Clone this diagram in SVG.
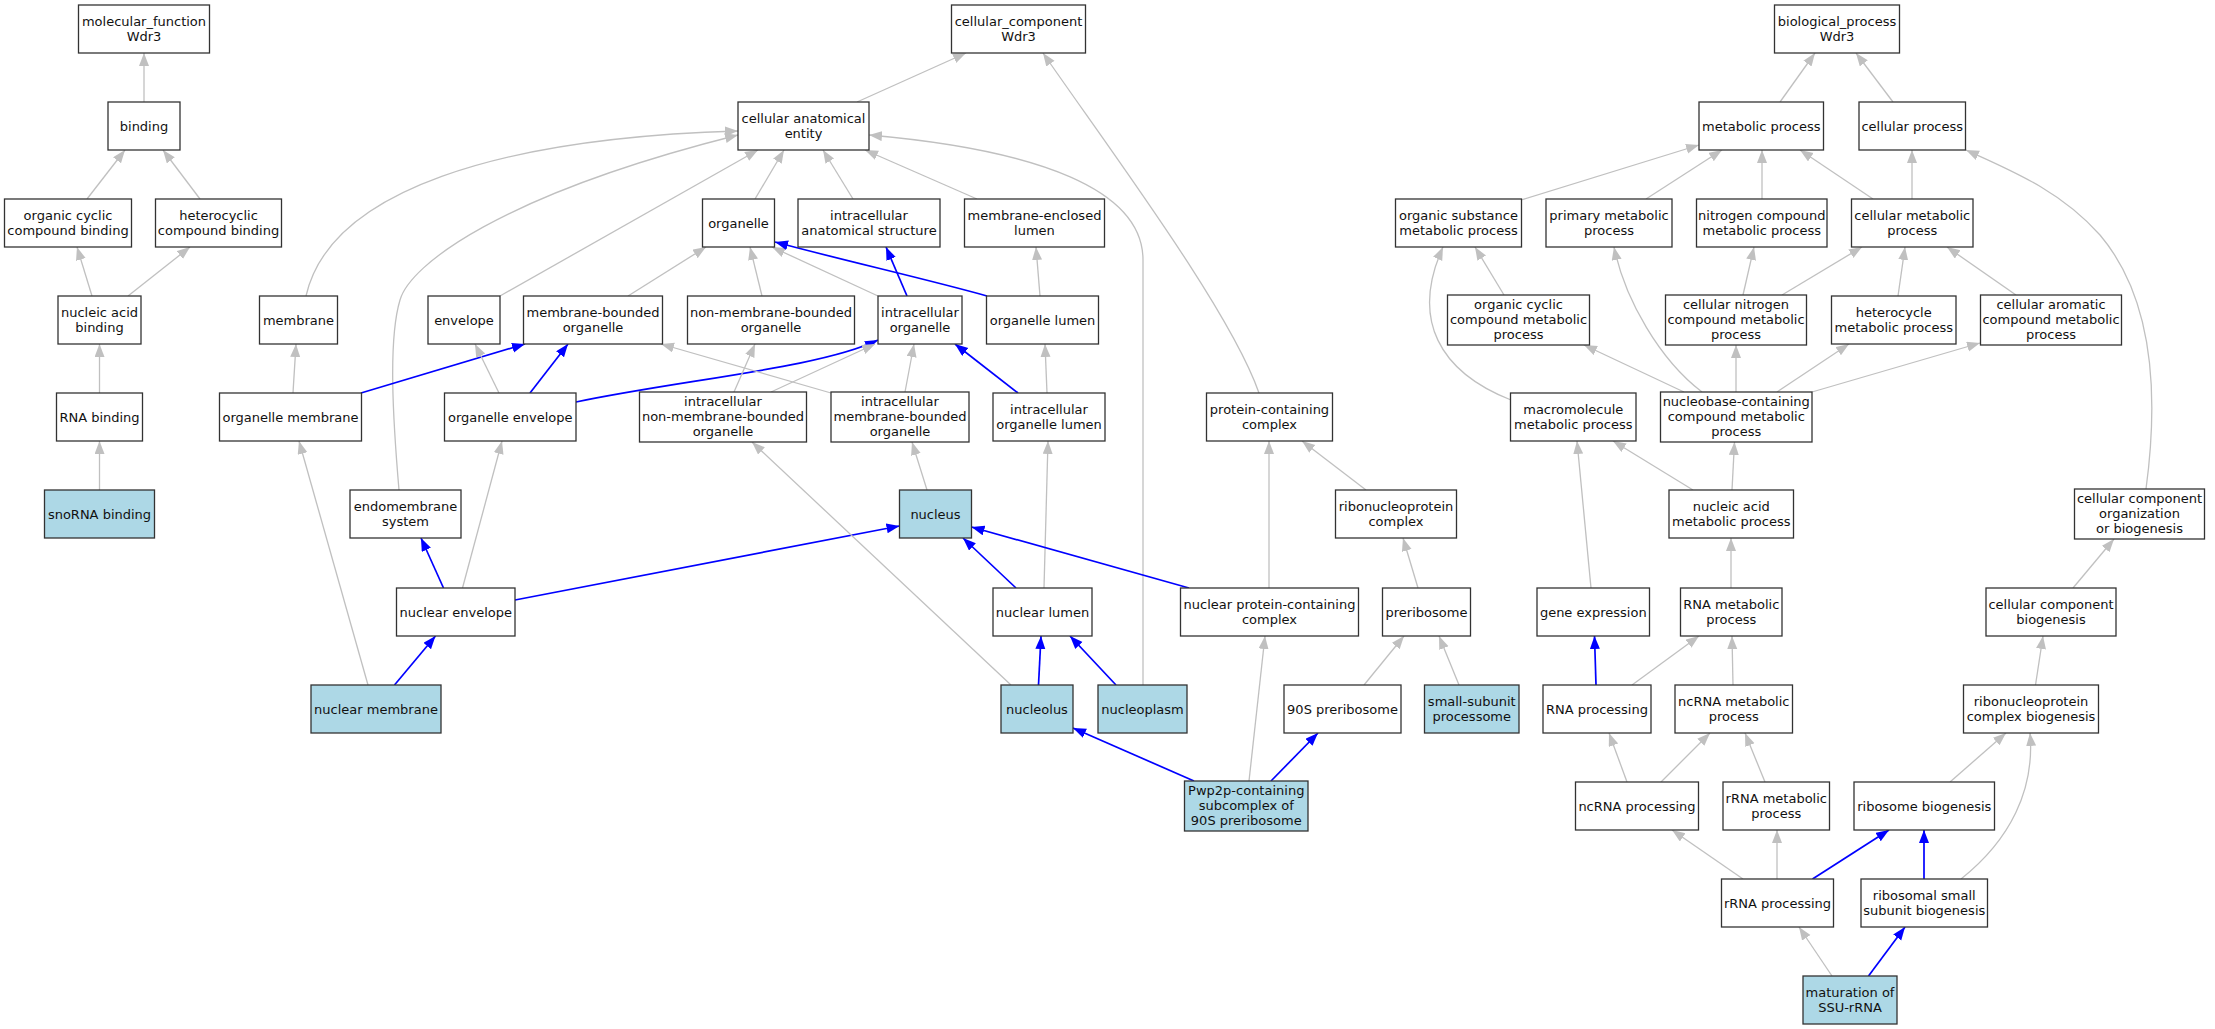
<svg xmlns="http://www.w3.org/2000/svg" width="2215" height="1029" viewBox="0 0 2215 1029">
<style>
.n rect{fill:#fff;stroke:#333;stroke-width:1.3}
.n.hl rect{fill:#add8e6}
text{font-family:"DejaVu Sans","Liberation Sans",sans-serif;font-size:13px;text-anchor:middle;fill:#111}
.e{fill:none;stroke:#c0c0c0;stroke-width:1.3;marker-end:url(#ag)}
.b{fill:none;stroke:#0000ff;stroke-width:1.7;marker-end:url(#ab)}
</style>
<defs>
<marker id="ag" markerUnits="userSpaceOnUse" markerWidth="14" markerHeight="11" refX="13" refY="5" orient="auto"><path d="M0,0 L13,5 L0,10 z" fill="#c0c0c0"/></marker>
<marker id="ab" markerUnits="userSpaceOnUse" markerWidth="14" markerHeight="11" refX="13" refY="5" orient="auto"><path d="M0,0 L13,5 L0,10 z" fill="#0000ff"/></marker>
</defs>
<rect width="2215" height="1029" fill="#fff"/>
<g id="edges">
<path class="e" d="M144,102 L144,53"/>
<path class="e" d="M87,199 L125,150"/>
<path class="e" d="M200,199 L163,150"/>
<path class="e" d="M92,296 L77,247"/>
<path class="e" d="M128,296 L190,247"/>
<path class="e" d="M99.5,393 L99.5,344"/>
<path class="e" d="M99.5,490 L99.5,441"/>
<path class="e" d="M857,102 L966,53"/>
<path class="e" d="M1259,393 C1230,310 1110,150 1043,53"/>
<path class="e" d="M306,296 C330,190 500,138 738,131"/>
<path class="e" d="M399,490 C393,420 388,340 400,300 C410,265 500,195 738,135"/>
<path class="e" d="M500,296 L758,150"/>
<path class="e" d="M755,199 L784,150"/>
<path class="e" d="M853,199 L823,150"/>
<path class="e" d="M977,199 L865,150"/>
<path class="e" d="M1143,685 L1143,260 C1143,190 1040,150 869,135"/>
<path class="e" d="M628,296 L706,247"/>
<path class="e" d="M762,296 L750,247"/>
<path class="e" d="M878,296 L772,247"/>
<path class="b" d="M987,296 C930,280 850,262 775,242"/>
<path class="b" d="M907,296 L886,247"/>
<path class="e" d="M1040,296 L1036,247"/>
<path class="e" d="M293,393 L296,344"/>
<path class="b" d="M361,393 L525,344"/>
<path class="e" d="M499,393 L475,344"/>
<path class="b" d="M530,393 L568,344"/>
<path class="b" d="M576,402 C680,380 820,368 878,340"/>
<path class="e" d="M734,392 L755,344"/>
<path class="e" d="M771,392 L875,344"/>
<path class="e" d="M831,393 L661,344"/>
<path class="e" d="M905,392 L914,344"/>
<path class="b" d="M1018,393 L955,344"/>
<path class="e" d="M1047,393 L1045,344"/>
<path class="e" d="M927,490 L912,442"/>
<path class="b" d="M443.5,588 L421,538"/>
<path class="e" d="M462.5,588 L502,441"/>
<path class="b" d="M515,600 L899.5,526"/>
<path class="b" d="M394.5,685 L435.5,636"/>
<path class="e" d="M368,685 L299,441"/>
<path class="b" d="M1016,588 L963,538"/>
<path class="e" d="M1044,588 L1048,441"/>
<path class="b" d="M1189,588 L971.5,527"/>
<path class="e" d="M1269,588 L1269,441"/>
<path class="e" d="M1366,490 L1302,441"/>
<path class="e" d="M1418,588 L1403,538"/>
<path class="b" d="M1038.5,685 L1041,636"/>
<path class="e" d="M1011,685 L752,442"/>
<path class="b" d="M1116,685 L1070,636"/>
<path class="e" d="M1364,685 L1404,636"/>
<path class="e" d="M1459,685 L1439,636"/>
<path class="b" d="M1194,781 L1073,728"/>
<path class="e" d="M1249,781 L1265,636"/>
<path class="b" d="M1271,781 L1318,733"/>
<path class="e" d="M1780,102 L1815,53"/>
<path class="e" d="M1893,102 L1856,53"/>
<path class="e" d="M1521,200 L1699,145"/>
<path class="e" d="M1646,199 L1722,150"/>
<path class="e" d="M1762,199 L1762,150"/>
<path class="e" d="M1873,199 L1800,150"/>
<path class="e" d="M1912,199 L1912,150"/>
<path class="e" d="M2146,489 C2158,400 2155,300 2100,235 C2060,190 2010,170 1966,150"/>
<path class="e" d="M1504,295 L1475,247"/>
<path class="e" d="M1511,400 C1440,372 1410,320 1443,247"/>
<path class="e" d="M1702,392 C1660,360 1625,300 1614,247"/>
<path class="e" d="M1743,295 L1754,247"/>
<path class="e" d="M1782,295 L1862,247"/>
<path class="e" d="M1898,296 L1905,247"/>
<path class="e" d="M2016,295 L1947,247"/>
<path class="e" d="M1684,392 L1584,345"/>
<path class="e" d="M1736,392 L1736,345"/>
<path class="e" d="M1777,392 L1849,344"/>
<path class="e" d="M1812,392 L1980,343"/>
<path class="e" d="M1732,490 L1734.5,442"/>
<path class="e" d="M1693,490 L1613,441"/>
<path class="e" d="M1731,588 L1731,538"/>
<path class="e" d="M1591,588 L1577,441"/>
<path class="b" d="M1596,685 L1594.5,636"/>
<path class="e" d="M1632,685 L1699,636"/>
<path class="e" d="M1733,685 L1732,636"/>
<path class="e" d="M2073,588 L2114,539"/>
<path class="e" d="M2035.5,685 L2043,636"/>
<path class="e" d="M1627,782 L1609,733"/>
<path class="e" d="M1661,782 L1710,733"/>
<path class="e" d="M1765,782 L1745,733"/>
<path class="e" d="M1950,782 L2006,733"/>
<path class="e" d="M1743,879 L1672,830"/>
<path class="e" d="M1777,879 L1777,830"/>
<path class="b" d="M1812.5,879 L1889,830"/>
<path class="b" d="M1924,879 L1924,830"/>
<path class="e" d="M1961,879 C2010,840 2035,790 2030,733"/>
<path class="e" d="M1832,976 L1799,927"/>
<path class="b" d="M1868.5,976 L1905,927"/>
</g>
<g id="n_mf" class="n"><rect x="78.5" y="5" width="131" height="48"/><text x="144" y="25.5">molecular_function</text><text x="144" y="40.5">Wdr3</text></g>
<g id="n_binding" class="n"><rect x="108" y="102" width="72" height="48"/><text x="144" y="130.5">binding</text></g>
<g id="n_ocb" class="n"><rect x="4.5" y="199" width="127" height="48"/><text x="68" y="219.5">organic cyclic</text><text x="68" y="234.5">compound binding</text></g>
<g id="n_hcb" class="n"><rect x="155.5" y="199" width="126" height="48"/><text x="218.5" y="219.5">heterocyclic</text><text x="218.5" y="234.5">compound binding</text></g>
<g id="n_nab" class="n"><rect x="58" y="296" width="83" height="48"/><text x="99.5" y="316.5">nucleic acid</text><text x="99.5" y="331.5">binding</text></g>
<g id="n_rnab" class="n"><rect x="56.5" y="393" width="86" height="48"/><text x="99.5" y="421.5">RNA binding</text></g>
<g id="n_snorna" class="n hl"><rect x="44.5" y="490" width="110" height="48"/><text x="99.5" y="518.5">snoRNA binding</text></g>
<g id="n_cc" class="n"><rect x="951.5" y="5" width="134" height="48"/><text x="1018.5" y="25.5">cellular_component</text><text x="1018.5" y="40.5">Wdr3</text></g>
<g id="n_cae" class="n"><rect x="738" y="102" width="131" height="48"/><text x="803.5" y="122.5">cellular anatomical</text><text x="803.5" y="137.5">entity</text></g>
<g id="n_organelle" class="n"><rect x="702.5" y="199" width="72" height="48"/><text x="738.5" y="227.5">organelle</text></g>
<g id="n_ias" class="n"><rect x="798" y="199" width="142" height="48"/><text x="869" y="219.5">intracellular</text><text x="869" y="234.5">anatomical structure</text></g>
<g id="n_mel" class="n"><rect x="964.5" y="199" width="140" height="48"/><text x="1034.5" y="219.5">membrane-enclosed</text><text x="1034.5" y="234.5">lumen</text></g>
<g id="n_membrane" class="n"><rect x="259.5" y="296" width="78" height="48"/><text x="298.5" y="324.5">membrane</text></g>
<g id="n_envelope" class="n"><rect x="428" y="296" width="72" height="48"/><text x="464" y="324.5">envelope</text></g>
<g id="n_mbo" class="n"><rect x="523.5" y="296" width="139" height="48"/><text x="593" y="316.5">membrane-bounded</text><text x="593" y="331.5">organelle</text></g>
<g id="n_nmbo" class="n"><rect x="687.5" y="296" width="167" height="48"/><text x="771" y="316.5">non-membrane-bounded</text><text x="771" y="331.5">organelle</text></g>
<g id="n_io" class="n"><rect x="878" y="296" width="84" height="48"/><text x="920" y="316.5">intracellular</text><text x="920" y="331.5">organelle</text></g>
<g id="n_ol" class="n"><rect x="986.5" y="296" width="112" height="48"/><text x="1042.5" y="324.5">organelle lumen</text></g>
<g id="n_om" class="n"><rect x="219.5" y="393" width="142" height="48"/><text x="290.5" y="421.5">organelle membrane</text></g>
<g id="n_oe" class="n"><rect x="444.5" y="393" width="131.5" height="48"/><text x="510.25" y="421.5">organelle envelope</text></g>
<g id="n_inmbo" class="n"><rect x="639.5" y="392" width="167" height="50"/><text x="723" y="406">intracellular</text><text x="723" y="421">non-membrane-bounded</text><text x="723" y="436">organelle</text></g>
<g id="n_imbo" class="n"><rect x="831" y="392" width="138" height="50"/><text x="900" y="406">intracellular</text><text x="900" y="421">membrane-bounded</text><text x="900" y="436">organelle</text></g>
<g id="n_iol" class="n"><rect x="993" y="393" width="112" height="48"/><text x="1049" y="413.5">intracellular</text><text x="1049" y="428.5">organelle lumen</text></g>
<g id="n_pcc" class="n"><rect x="1206.5" y="393" width="126" height="48"/><text x="1269.5" y="413.5">protein-containing</text><text x="1269.5" y="428.5">complex</text></g>
<g id="n_ems" class="n"><rect x="350" y="490" width="111" height="48"/><text x="405.5" y="510.5">endomembrane</text><text x="405.5" y="525.5">system</text></g>
<g id="n_nucleus" class="n hl"><rect x="899.5" y="490" width="72" height="48"/><text x="935.5" y="518.5">nucleus</text></g>
<g id="n_rnpc" class="n"><rect x="1335.5" y="490" width="121" height="48"/><text x="1396" y="510.5">ribonucleoprotein</text><text x="1396" y="525.5">complex</text></g>
<g id="n_ne" class="n"><rect x="396.5" y="588" width="118.5" height="48"/><text x="455.75" y="616.5">nuclear envelope</text></g>
<g id="n_nl" class="n"><rect x="993" y="588" width="99" height="48"/><text x="1042.5" y="616.5">nuclear lumen</text></g>
<g id="n_npcc" class="n"><rect x="1180.5" y="588" width="178" height="48"/><text x="1269.5" y="608.5">nuclear protein-containing</text><text x="1269.5" y="623.5">complex</text></g>
<g id="n_prerib" class="n"><rect x="1382.5" y="588" width="88" height="48"/><text x="1426.5" y="616.5">preribosome</text></g>
<g id="n_nm" class="n hl"><rect x="311" y="685" width="130" height="48"/><text x="376" y="713.5">nuclear membrane</text></g>
<g id="n_nucleolus" class="n hl"><rect x="1001" y="685" width="72" height="48"/><text x="1037" y="713.5">nucleolus</text></g>
<g id="n_nucleoplasm" class="n hl"><rect x="1098" y="685" width="89" height="48"/><text x="1142.5" y="713.5">nucleoplasm</text></g>
<g id="n_90s" class="n"><rect x="1284" y="685" width="117" height="48"/><text x="1342.5" y="713.5">90S preribosome</text></g>
<g id="n_ssp" class="n hl"><rect x="1424.5" y="685" width="94.5" height="48"/><text x="1471.75" y="705.5">small-subunit</text><text x="1471.75" y="720.5">processome</text></g>
<g id="n_pwp2p" class="n hl"><rect x="1184.5" y="781" width="123.5" height="50"/><text x="1246.25" y="795">Pwp2p-containing</text><text x="1246.25" y="810">subcomplex of</text><text x="1246.25" y="825">90S preribosome</text></g>
<g id="n_bp" class="n"><rect x="1774.5" y="5" width="125" height="48"/><text x="1837" y="25.5">biological_process</text><text x="1837" y="40.5">Wdr3</text></g>
<g id="n_mp" class="n"><rect x="1699" y="102" width="124.5" height="48"/><text x="1761.25" y="130.5">metabolic process</text></g>
<g id="n_cp" class="n"><rect x="1859" y="102" width="106.5" height="48"/><text x="1912.25" y="130.5">cellular process</text></g>
<g id="n_osmp" class="n"><rect x="1395.5" y="199" width="126" height="48"/><text x="1458.5" y="219.5">organic substance</text><text x="1458.5" y="234.5">metabolic process</text></g>
<g id="n_pmp" class="n"><rect x="1546" y="199" width="126" height="48"/><text x="1609" y="219.5">primary metabolic</text><text x="1609" y="234.5">process</text></g>
<g id="n_ncmp" class="n"><rect x="1696.5" y="199" width="130.5" height="48"/><text x="1761.75" y="219.5">nitrogen compound</text><text x="1761.75" y="234.5">metabolic process</text></g>
<g id="n_cmp" class="n"><rect x="1851.5" y="199" width="121.5" height="48"/><text x="1912.25" y="219.5">cellular metabolic</text><text x="1912.25" y="234.5">process</text></g>
<g id="n_occmp" class="n"><rect x="1447.5" y="295" width="142" height="50"/><text x="1518.5" y="309">organic cyclic</text><text x="1518.5" y="324">compound metabolic</text><text x="1518.5" y="339">process</text></g>
<g id="n_cncmp" class="n"><rect x="1665.5" y="295" width="141" height="50"/><text x="1736" y="309">cellular nitrogen</text><text x="1736" y="324">compound metabolic</text><text x="1736" y="339">process</text></g>
<g id="n_hmp" class="n"><rect x="1831.5" y="296" width="124.5" height="48"/><text x="1893.75" y="316.5">heterocycle</text><text x="1893.75" y="331.5">metabolic process</text></g>
<g id="n_cacmp" class="n"><rect x="1980.5" y="295" width="141" height="50"/><text x="2051" y="309">cellular aromatic</text><text x="2051" y="324">compound metabolic</text><text x="2051" y="339">process</text></g>
<g id="n_mmp" class="n"><rect x="1510.5" y="393" width="125.5" height="48"/><text x="1573.25" y="413.5">macromolecule</text><text x="1573.25" y="428.5">metabolic process</text></g>
<g id="n_nccmp" class="n"><rect x="1660.5" y="392" width="151.5" height="50"/><text x="1736.25" y="406">nucleobase-containing</text><text x="1736.25" y="421">compound metabolic</text><text x="1736.25" y="436">process</text></g>
<g id="n_namp" class="n"><rect x="1669" y="490" width="124.5" height="48"/><text x="1731.25" y="510.5">nucleic acid</text><text x="1731.25" y="525.5">metabolic process</text></g>
<g id="n_ccob" class="n"><rect x="2074.5" y="489" width="130" height="50"/><text x="2139.5" y="503">cellular component</text><text x="2139.5" y="518">organization</text><text x="2139.5" y="533">or biogenesis</text></g>
<g id="n_ge" class="n"><rect x="1537" y="588" width="112.5" height="48"/><text x="1593.25" y="616.5">gene expression</text></g>
<g id="n_rnamp" class="n"><rect x="1680.5" y="588" width="101.5" height="48"/><text x="1731.25" y="608.5">RNA metabolic</text><text x="1731.25" y="623.5">process</text></g>
<g id="n_ccb" class="n"><rect x="1986" y="588" width="130" height="48"/><text x="2051" y="608.5">cellular component</text><text x="2051" y="623.5">biogenesis</text></g>
<g id="n_rnap" class="n"><rect x="1543" y="685" width="108" height="48"/><text x="1597" y="713.5">RNA processing</text></g>
<g id="n_ncrnamp" class="n"><rect x="1675" y="685" width="117.5" height="48"/><text x="1733.75" y="705.5">ncRNA metabolic</text><text x="1733.75" y="720.5">process</text></g>
<g id="n_rnpcb" class="n"><rect x="1963.5" y="685" width="135" height="48"/><text x="2031" y="705.5">ribonucleoprotein</text><text x="2031" y="720.5">complex biogenesis</text></g>
<g id="n_ncrnap" class="n"><rect x="1575.5" y="782" width="123" height="48"/><text x="1637" y="810.5">ncRNA processing</text></g>
<g id="n_rrnamp" class="n"><rect x="1723" y="782" width="106.5" height="48"/><text x="1776.25" y="802.5">rRNA metabolic</text><text x="1776.25" y="817.5">process</text></g>
<g id="n_rb" class="n"><rect x="1854" y="782" width="140.5" height="48"/><text x="1924.25" y="810.5">ribosome biogenesis</text></g>
<g id="n_rrnap" class="n"><rect x="1721.5" y="879" width="112" height="48"/><text x="1777.5" y="907.5">rRNA processing</text></g>
<g id="n_rssb" class="n"><rect x="1861" y="879" width="126.5" height="48"/><text x="1924.25" y="899.5">ribosomal small</text><text x="1924.25" y="914.5">subunit biogenesis</text></g>
<g id="n_mat" class="n hl"><rect x="1803" y="976" width="94" height="48"/><text x="1850" y="996.5">maturation of</text><text x="1850" y="1011.5">SSU-rRNA</text></g>
</svg>
